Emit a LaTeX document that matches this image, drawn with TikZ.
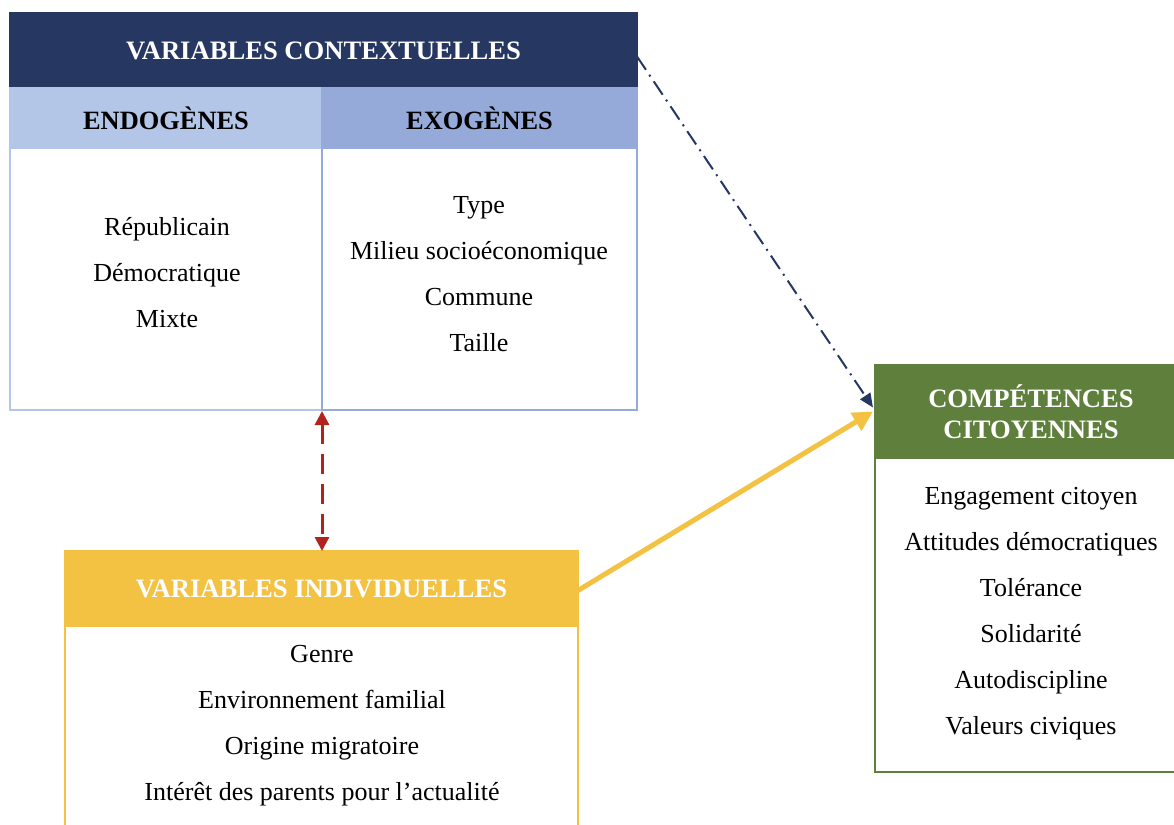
\documentclass[tikz,border=0pt]{standalone}
\usepackage{fontspec}
\setmainfont{Liberation Serif}
\usetikzlibrary{arrows.meta,positioning}

\definecolor{navy}{HTML}{263862}
\definecolor{paleblue}{HTML}{B4C6E7}
\definecolor{midblue}{HTML}{95AAD9}
\definecolor{gold}{HTML}{F4C243}
\definecolor{leaf}{HTML}{5F7F3D}
\definecolor{brick}{HTML}{B2231B}

\tikzset{
  box/.style={draw, line width=1pt, anchor=north west, inner sep=0pt, outer sep=0pt},
  hdr/.style={box, font=\fontsize{13.3}{15.5}\selectfont\bfseries, text=white, align=center},
  subhdr/.style={box, font=\fontsize{13.2}{15.5}\selectfont\bfseries},
  list/.style={align=center, inner sep=0pt, font=\fontsize{13}{23}\selectfont}
}

\begin{document}
\begin{tikzpicture}[x=0.5pt, y=-0.5pt]

\useasboundingbox (0,0) rectangle (1174,825);
\clip (0,0) rectangle (1174,825);

% contextual variables
\node[hdr, draw=navy, fill=navy, minimum width=313.5pt, minimum height=37.5pt] (ctx) at (10,13) {VARIABLES CONTEXTUELLES};
\node[subhdr, draw=paleblue, fill=paleblue, minimum width=156pt, minimum height=30pt] (endo) at (10,88) {ENDOGÈNES};
\node[subhdr, draw=midblue, fill=midblue, minimum width=157.5pt, minimum height=30pt] (exo) at (322,88) {EXOGÈNES};
\node[box, draw=paleblue, minimum width=156pt, minimum height=131pt] (endobody) at (10,148) {};
\node[box, draw=midblue, minimum width=157.5pt, minimum height=131pt] (exobody) at (322,148) {};
\node[list] (endolist) at (167,273) {Républicain\\Démocratique\\Mixte};
\node[list] (exolist) at (479,274) {Type\\Milieu socioéconomique\\Commune\\Taille};

% individual variables
\node[hdr, draw=gold, fill=gold, minimum width=256.5pt, minimum height=37.5pt] (ind) at (65,551) {VARIABLES INDIVIDUELLES};
\node[box, draw=gold, minimum width=256.5pt, minimum height=120pt] (indbody) at (65,626) {};
\node[list] (indlist) at (322,726) {Genre\\Environnement familial\\Origine migratoire\\Intérêt des parents pour l’actualité};

% citizenship competences
\node[hdr, draw=leaf, fill=leaf, minimum width=156pt, minimum height=46.5pt] (comp) at (875,365) {COMPÉTENCES\\CITOYENNES};
\node[box, draw=leaf, minimum width=156pt, minimum height=157pt] (compbody) at (875,458) {};
\node[list] (complist) at (1031,614) {Engagement citoyen\\Attitudes démocratiques\\Tolérance\\Solidarité\\Autodiscipline\\Valeurs civiques};

% links
\draw[navy, line width=1pt, dash pattern=on 8pt off 3pt on 1pt off 3pt, -{Triangle[length=7pt, width=6pt]}]
  ([yshift=-3pt]ctx.east) -- ([xshift=-1pt, yshift=2pt]comp.west);
\draw[gold, line width=2.5pt, -{Triangle[length=10pt, width=10pt]}]
  ([yshift=-1pt]ind.east) -- ([xshift=-1pt]comp.west);
\draw[brick, line width=1.5pt, dash pattern=on 10pt off 5pt, {Triangle[length=7pt, width=7pt]}-{Triangle[length=7pt, width=7pt]}]
  ([yshift=-0.5pt]endobody.south east) -- (endobody.south east |- ind.north);

\end{tikzpicture}
\end{document}
